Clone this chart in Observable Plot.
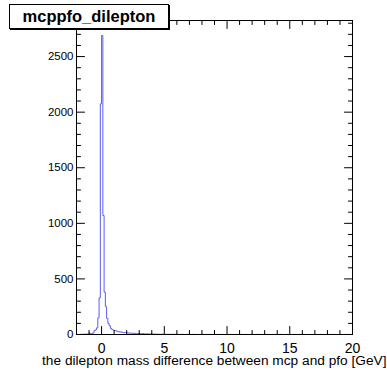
<!DOCTYPE html>
<html>
<head>
<meta charset="utf-8">
<script src="https://cdn.jsdelivr.net/npm/d3@7"></script>
<script src="https://cdn.jsdelivr.net/npm/@observablehq/plot@0.6"></script>
<style>
  html, body { margin: 0; padding: 0; background: #fff; }
  #chart { position: relative; width: 387px; height: 370px; font-family: "Liberation Sans", Arial, sans-serif; }
  #title {
    position: absolute; left: 9px; top: 4px; width: 158px; height: 23px; z-index: 2;
    border: 1px solid #000; box-shadow: 1px 1px 0 #000; background: #fff;
    font-weight: bold; font-size: 16.5px; line-height: 23px; text-align: center;
  }
</style>
</head>
<body>
<div id="chart"></div>
<script>
// Histogram binning: 220 bins of 0.1 GeV from -2 to 20
const binLow = -2;
const binWidth = 0.1;

// Entries per bin, one row per GeV
const counts = [
  0, 1, 0, 2, 1, 2, 3, 2, 4, 5,                    // -2 .. -1
  12, 8, 10, 15, 35, 42, 60, 150, 330, 2075,       // -1 .. 0
  2690, 1070, 380, 250, 145, 100, 80, 55, 45, 40,  //  0 .. 1
  36, 34, 28, 25, 22, 24, 20, 18, 16, 18,          //  1 .. 2
  15, 14, 12, 13, 11, 10, 12, 9, 10, 8,            //  2 .. 3
  9, 8, 7, 8, 6, 5, 6, 5, 4, 5,                    //  3 .. 4
  4, 3, 4, 3, 2, 3, 2, 2, 3, 2,                    //  4 .. 5
  2, 1, 2, 2, 1, 1, 2, 1, 1, 1,                    //  5 .. 6
  1, 1, 0, 1, 2, 1, 0, 1, 1, 0,                    //  6 .. 7
  1, 0, 1, 1, 0, 1, 0, 0, 1, 1,                    //  7 .. 8
  0, 1, 0, 0, 1, 0, 1, 0, 0, 1,                    //  8 .. 9
  0, 0, 1, 0, 1, 0, 0, 1, 0, 0,                    //  9 .. 10
  1, 0, 0, 1, 0, 0, 0, 1, 0, 0,                    // 10 .. 11
  0, 1, 0, 0, 0, 1, 0, 0, 0, 1,                    // 11 .. 12
  0, 0, 0, 1, 0, 0, 1, 0, 0, 0,                    // 12 .. 13
  0, 1, 0, 0, 0, 0, 1, 0, 0, 0,                    // 13 .. 14
  0, 0, 1, 0, 0, 0, 0, 0, 1, 0,                    // 14 .. 15
  0, 0, 0, 0, 1, 0, 0, 0, 0, 0,                    // 15 .. 16
  1, 0, 0, 0, 0, 0, 0, 1, 0, 0,                    // 16 .. 17
  0, 0, 0, 0, 1, 0, 0, 0, 0, 0,                    // 17 .. 18
  0, 0, 1, 0, 0, 0, 0, 0, 0, 0,                    // 18 .. 19
  0, 0, 0, 0, 0, 1, 0, 0, 0, 0                     // 19 .. 20
];

// Axis labels
const xMajor = [0, 5, 10, 15, 20];
const yMajor = [0, 500, 1000, 1500, 2000, 2500];
const histTitle = "mcppfo_dilepton";
const xTitle = "the dilepton mass difference between mcp and pfo [GeV]";

// Step outline of the histogram (left edge of every bin, plus the closing edge)
const steps = counts.map((c, i) => ({x: binLow + i * binWidth, y: c}));
steps.push({x: binLow + counts.length * binWidth, y: counts[counts.length - 1]});

const xLow = binLow;
const xHigh = binLow + counts.length * binWidth;
const yMax = d3.max(counts) * 1.05;

const xMinor = d3.range(Math.ceil(xLow), xHigh + 1, 1).filter(v => !xMajor.includes(v));
const yMinor = d3.range(100, yMax, 100).filter(v => v % 500 !== 0);

// Inward-pointing tick marks on all four sides of the frame
const tickShape = {draw(ctx, l) { ctx.moveTo(0, 0); ctx.lineTo(0, -l); }};
const rotation = {bottom: 0, top: 180, left: 90, right: -90};
const ticks = (values, channel, side, len) =>
  Plot.vector(values, {
    [channel]: d => d, frameAnchor: side, length: len, rotate: rotation[side],
    anchor: "start", shape: tickShape, stroke: "#000", strokeWidth: 1
  });

const chart = Plot.plot({
  width: 387,
  height: 370,
  marginLeft: 76,
  marginRight: 35,
  marginTop: 20,
  marginBottom: 36,
  style: {fontFamily: '"Liberation Sans", Arial, sans-serif', background: "#fff", color: "#000", overflow: "visible"},
  x: {domain: [xLow, xHigh]},
  y: {domain: [0, yMax]},
  marks: [
    Plot.line(steps, {x: "x", y: "y", curve: "step-after", stroke: "#5c5cf0", strokeWidth: 1}),
    Plot.frame({stroke: "#000"}),
    ticks(xMajor, "x", "bottom", 8),
    ticks(xMinor, "x", "bottom", 4),
    ticks(xMajor, "x", "top", 8),
    ticks(xMinor, "x", "top", 4),
    ticks(yMajor, "y", "left", 8),
    ticks(yMinor, "y", "left", 4),
    ticks(yMajor, "y", "right", 8),
    ticks(yMinor, "y", "right", 4),
    Plot.axisX(xMajor, {tickSize: 0, tickPadding: 9, fontSize: 14, label: null, tickFormat: d => `${d}`}),
    Plot.axisY(yMajor, {tickSize: 0, tickPadding: 3, fontSize: 11.5, label: null, tickFormat: d => `${d}`}),
    Plot.text([xTitle], {
      frameAnchor: "bottom-right", dx: 34, dy: 30, textAnchor: "end",
      lineAnchor: "bottom", fontSize: 13.7, fill: "#000"
    })
  ]
});

const holder = document.getElementById("chart");
holder.appendChild(chart);
const titleBox = document.createElement("div");
titleBox.id = "title";
titleBox.textContent = histTitle;
holder.appendChild(titleBox);
</script>
</body>
</html>
